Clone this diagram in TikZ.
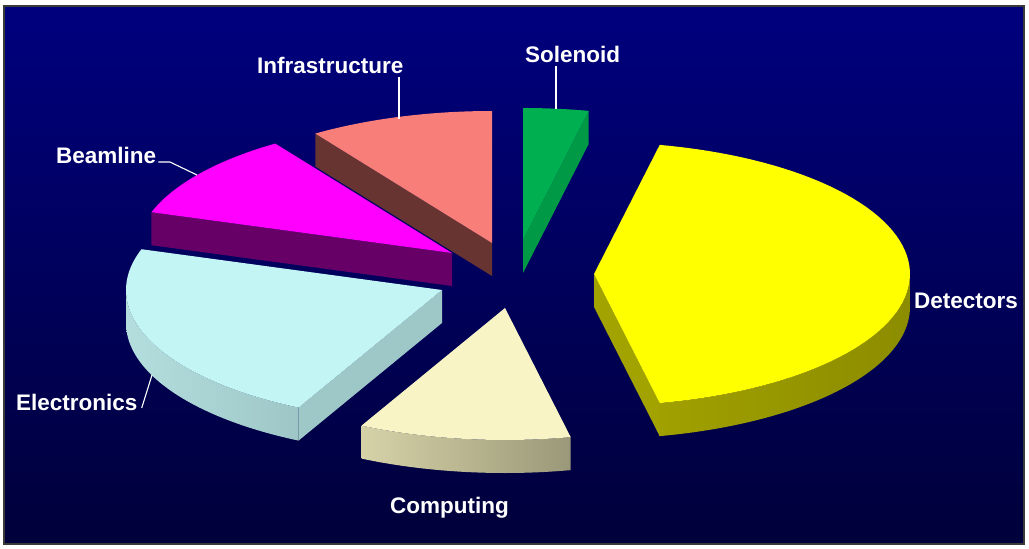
\documentclass[tikz,border=0pt]{standalone}
\usepackage{fontspec}
\setmainfont{Liberation Sans}

% slice colours
\definecolor{bgtop}{HTML}{00007E}
\definecolor{bgbot}{HTML}{00003A}
\definecolor{dettop}{HTML}{FFFF00}
\definecolor{detface}{HTML}{A2A200}
\definecolor{detsideL}{HTML}{A0A000}
\definecolor{detsideR}{HTML}{8C8C00}
\definecolor{soltop}{HTML}{00B050}
\definecolor{solface}{HTML}{009A46}
\definecolor{inftop}{HTML}{F87F79}
\definecolor{infface}{HTML}{673432}
\definecolor{beamtop}{HTML}{FF00FF}
\definecolor{beamface}{HTML}{660066}
\definecolor{electop}{HTML}{C4F5F5}
\definecolor{elecface}{HTML}{9EC8C8}
\definecolor{elecsideL}{HTML}{B4DEDE}
\definecolor{elecsideR}{HTML}{9EC6C6}
\definecolor{comptop}{HTML}{F8F4C6}
\definecolor{compsideL}{HTML}{D6D2A8}
\definecolor{compsideR}{HTML}{9A9878}
\definecolor{frameline}{HTML}{3A3A3A}

% pie geometry (pixels): horizontal radius, vertical radius, thickness
\def\piea{316}
\def\pieb{132}
\def\pieh{33}

% radial cut face: apex x, apex y, angle, colour
\newcommand\pieradface[4]{%
  \fill[#4] (#1,#2) -- ({#1+\piea*cos(#3)},{#2-\pieb*sin(#3)})
    -- ++(0,\pieh) -- (#1,{#2+\pieh}) -- cycle;}
% outer rim side: apex x, apex y, from, to, left colour, right colour
\newcommand\pierimside[6]{%
  \shade[left color=#5, right color=#6]
    plot[domain=#3:#4, samples=50] ({#1+\piea*cos(\x)},{#2-\pieb*sin(\x)})
    -- plot[domain=#4:#3, samples=50] ({#1+\piea*cos(\x)},{#2-\pieb*sin(\x)+\pieh})
    -- cycle;}
% top face: apex x, apex y, from, to, colour
\newcommand\pietopface[5]{%
  \fill[#5] (#1,#2)
    -- plot[domain=#3:#4, samples=70] ({#1+\piea*cos(\x)},{#2-\pieb*sin(\x)})
    -- cycle;}

\tikzset{
  lbl/.style={text=white, font=\bfseries\fontsize{22.5}{26}\selectfont,
    inner sep=0pt, anchor=base west},
  leader/.style={draw=white, line width=1.1pt},
}

\begin{document}
\begin{tikzpicture}[x=1pt, y=-1pt]
  \useasboundingbox (0,0) rectangle (1029,549);
  \fill[white] (0,0) rectangle (1029,549);

  % panel
  \shade[top color=bgtop, bottom color=bgbot] (4,6) rectangle (1024,544);
  \draw[frameline, line width=2pt] (4,6) rectangle (1024,544);

  % Solenoid
  \pieradface{523}{240}{78}{solface}
  \pietopface{523}{240}{78}{90}{soltop}

  % Infrastructure
  \pieradface{492}{243}{124}{infface}
  \pietopface{492}{243}{90}{124}{inftop}

  % Beamline
  \pieradface{452}{253}{162}{beamface}
  \pietopface{452}{253}{124}{162}{beamtop}

  % Detectors
  \pieradface{594}{274}{-78}{detface}
  \pierimside{594}{274}{-78}{0}{detsideL}{detsideR}
  \pietopface{594}{274}{-78}{78}{dettop}

  % Electronics
  \pieradface{442}{290}{243}{elecface}
  \pierimside{442}{290}{180}{243}{elecsideL}{elecsideR}
  \pietopface{442}{290}{162}{243}{electop}

  % Computing
  \pierimside{505}{308}{243}{282}{compsideL}{compsideR}
  \pietopface{505}{308}{243}{282}{comptop}

  % labels
  \node[lbl] (sol)  at (525,62)  {Solenoid};
  \node[lbl] (inf)  at (257,73)  {Infrastructure};
  \node[lbl] (beam) at (56,163)  {Beamline};
  \node[lbl] (elec) at (16,410)  {Electronics};
  \node[lbl] (det)  at (914,308) {Detectors};
  \node[lbl] (comp) at (390,513) {Computing};

  % leader lines
  \coordinate (solrim)  at (556,109);
  \coordinate (infrim)  at (399,119);
  \coordinate (beamrim) at (197,175);
  \coordinate (elecrim) at (152,375);
  \coordinate (beamknee) at (170,162);
  \draw[leader] (556,66) -- (solrim);
  \draw[leader] (399,77) -- (infrim);
  \draw[leader] (beam.east |- 0,162) ++(2,0) -- (beamknee) -- (beamrim);
  \draw[leader] (elec.east |- 0,408) ++(4,0) -- (elecrim);
\end{tikzpicture}
\end{document}
